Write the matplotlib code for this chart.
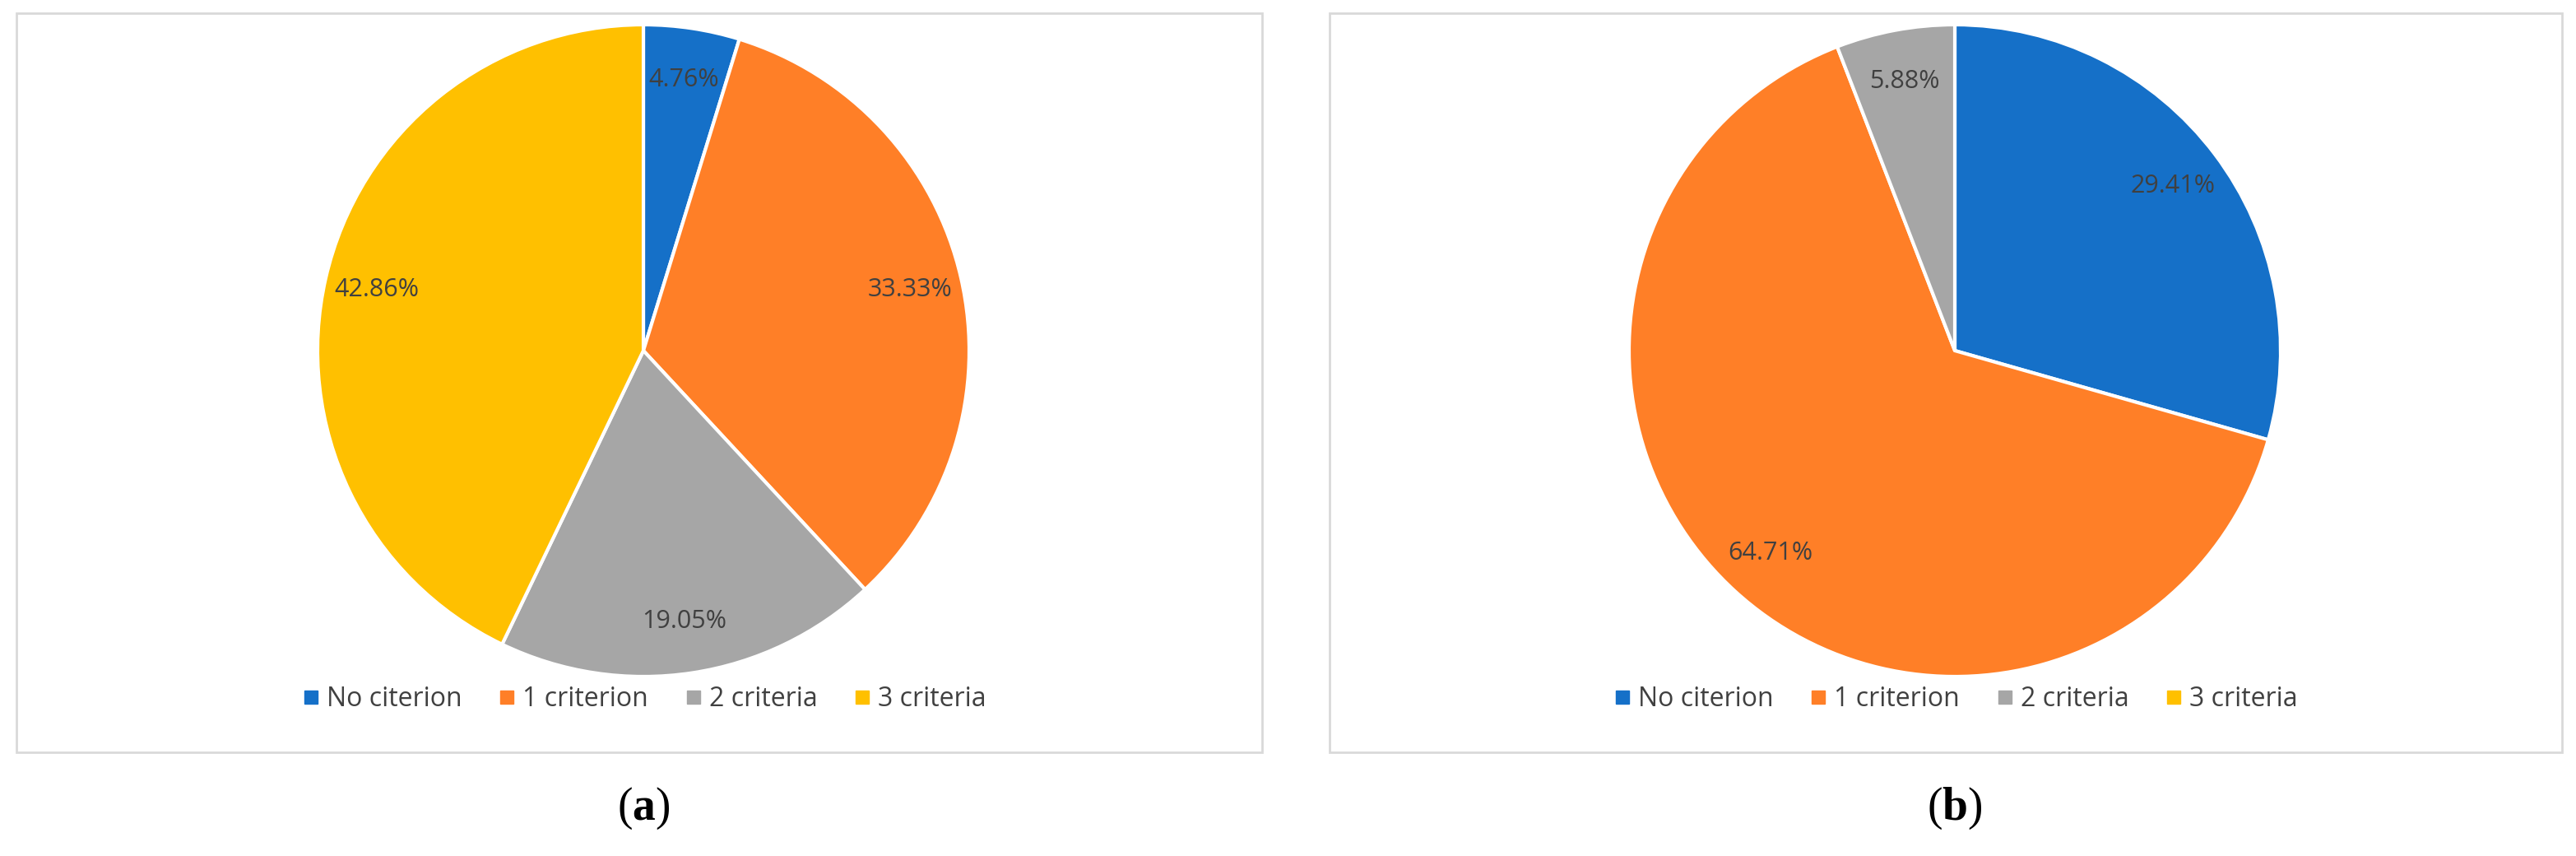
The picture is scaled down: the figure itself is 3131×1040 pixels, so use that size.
import matplotlib
matplotlib.use("Agg")
import matplotlib.pyplot as plt
from matplotlib.patches import Rectangle
from matplotlib.lines import Line2D
import numpy as np

categories = ["No citerion", "1 criterion", "2 criteria", "3 criteria"]
values_a = [4.76, 33.33, 19.05, 42.86]
values_b = [29.41, 64.71, 5.88, 0.0]
captions = ["a", "b"]
colors = ["#1570C8", "#FF7F27", "#A6A6A6", "#FFC000"]

W, H = 3131, 1040
fig = plt.figure(figsize=(W/100, H/100), dpi=100)
plt.rcParams['font.family'] = ['Open Sans', 'DejaVu Sans']
plt.rcParams['mathtext.fontset'] = 'custom'
plt.rcParams['mathtext.bf'] = 'Liberation Serif:bold'
plt.rcParams['mathtext.rm'] = 'Liberation Serif'

boxes = [(20, 16, 1514, 898), (1616, 16, 1498, 898)]
centers = [(782, 426), (2376, 426)]
R = 396

for i, (vals, cap) in enumerate(zip([values_a, values_b], captions)):
    bx, by, bw, bh = boxes[i]
    fig.patches.append(Rectangle((bx/W, 1-(by+bh)/H), bw/W, bh/H, transform=fig.transFigure,
                                 fill=False, edgecolor="#D9D9D9", lw=2))
    cx, cy = centers[i]
    ax = fig.add_axes([(cx-R)/W, 1-(cy+R)/H, 2*R/W, 2*R/H])
    v = np.array(vals)
    nz = v > 0
    ax.pie(v[nz], colors=[c for c, k in zip(colors, nz) if k],
           startangle=90, counterclock=False,
           autopct=lambda p: f"{p:.2f}%", pctdistance=0.84,
           wedgeprops=dict(edgecolor="white", linewidth=3),
           textprops=dict(fontsize=22, color="#404040"))
    ax.set_xlim(-1, 1); ax.set_ylim(-1, 1)
    ax.set_aspect('equal')
    handles = [Line2D([], [], marker='s', linestyle='none', color=c, markersize=11) for c in colors]
    fig.legend(handles, categories, loc='center', bbox_to_anchor=(cx/W, 1-850/H), ncol=4,
               frameon=False, fontsize=23, labelcolor="#404040", handletextpad=0.2,
               columnspacing=1.3, handlelength=0.8)
    fig.text(cx/W, 1-982/H, "(" + r"$\mathbf{" + cap + "}$" + ")", fontsize=40,
             family="Liberation Serif", ha='center', va='center')

fig.savefig("out.png", dpi=100, facecolor="white")
